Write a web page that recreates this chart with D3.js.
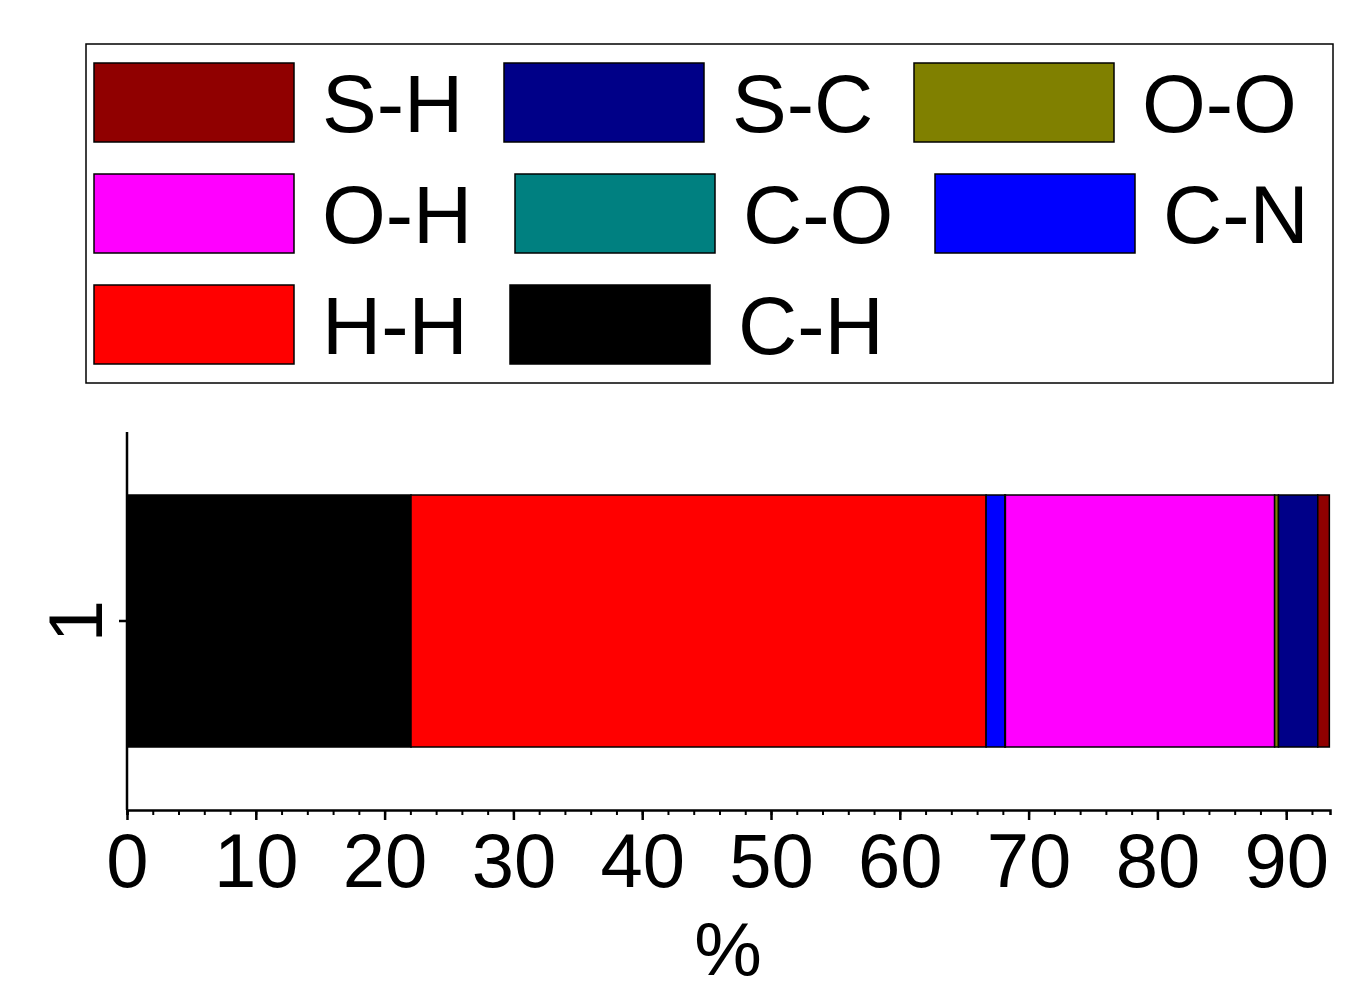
<!DOCTYPE html>
<html><head><meta charset="utf-8">
<script src="https://cdn.jsdelivr.net/npm/d3@7"></script>
<style>body{margin:0;background:#fff}text{font-family:"Liberation Sans",Arial,sans-serif}</style>
</head><body><svg width="1368" height="1004"></svg>
<script>
const stackNames = ["C-H", "H-H", "C-N", "C-O", "O-H", "O-O", "S-C", "S-H"]
const stackValues = [22.05, 44.65, 1.45, 0.05, 20.9, 0.3, 3.05, 0.9]
const colors = {"S-H":"#900000","S-C":"#000088","O-O":"#808000","O-H":"#ff00ff","C-O":"#008080","C-N":"#0000ff","H-H":"#ff0000","C-H":"#000000"}
const legendOrder = ["S-H","S-C","O-O","O-H","C-O","C-N","H-H","C-H"]
const xTicks = [0,10,20,30,40,50,60,70,80,90]

const svg = d3.select("svg")
const x = d3.scaleLinear().domain([0, 93.4]).range([127, 1330])
const y = d3.scaleBand().domain(["1"]).range([432, 810]).padding(0.2)

let acc = 0
const segs = stackNames.map((n, i) => { const s = {name: n, x0: acc, x1: acc + stackValues[i]}; acc += stackValues[i]; return s })

svg.append("g").selectAll("rect").data(segs).join("rect")
  .attr("x", d => x(d.x0)).attr("width", d => x(d.x1) - x(d.x0))
  .attr("y", y("1")).attr("height", y.bandwidth())
  .attr("fill", d => colors[d.name]).attr("stroke", "#000").attr("stroke-width", 1.5)

// x axis
const xa = svg.append("g").attr("transform", "translate(0,810)")
xa.call(d3.axisBottom(x).tickValues(d3.range(0, 94, 2)).tickSize(5).tickFormat(""))
xa.call(g => g.select(".domain").attr("stroke-width", 2.5))
xa.selectAll(".tick line").attr("stroke-width", 2)
const xb = svg.append("g").attr("transform", "translate(0,810)")
xb.call(d3.axisBottom(x).tickValues(xTicks).tickSize(10).tickPadding(8))
xb.select(".domain").remove()
xb.selectAll(".tick line").attr("stroke-width", 2.5)
xb.selectAll("text").attr("font-size", 76).attr("dy", "0.78em").attr("fill", "#000")

// y axis
const ya = svg.append("g").attr("transform", "translate(127,0)")
ya.call(d3.axisLeft(y).tickSize(8).tickFormat(""))
ya.select(".domain").attr("d", "M0,432V810").attr("stroke-width", 2.5)
ya.selectAll(".tick line").attr("stroke-width", 2.5)
svg.append("text").attr("transform", `translate(102,${y("1") + y.bandwidth()/2}) rotate(-90)`)
  .attr("text-anchor", "middle").attr("font-size", 76).text("1")

svg.append("text").attr("x", 728).attr("y", 975).attr("text-anchor", "middle").attr("font-size", 76).text("%")

// legend
svg.append("rect").attr("x", 86).attr("y", 44).attr("width", 1247).attr("height", 339)
  .attr("fill", "none").attr("stroke", "#000").attr("stroke-width", 1.5)
const colX = [[94, 322], [504, 732], [914, 1142]]
const colX2 = [[94, 322], [515, 743], [935, 1163]]
const colX3 = [[94, 322], [510, 738]]
const rowsX = [colX, colX2, colX3]
const lg = svg.append("g")
legendOrder.forEach((n, i) => {
  const r = Math.floor(i / 3), c = i % 3
  const [bx, tx] = rowsX[r][c]
  const yy = 63 + r * 111
  lg.append("rect").attr("x", bx).attr("y", yy).attr("width", 200).attr("height", 79)
    .attr("fill", colors[n]).attr("stroke", "#000").attr("stroke-width", 1.5)
  lg.append("text").attr("x", tx).attr("y", yy + 69).attr("font-size", 82).text(n)
})
</script></body></html>
